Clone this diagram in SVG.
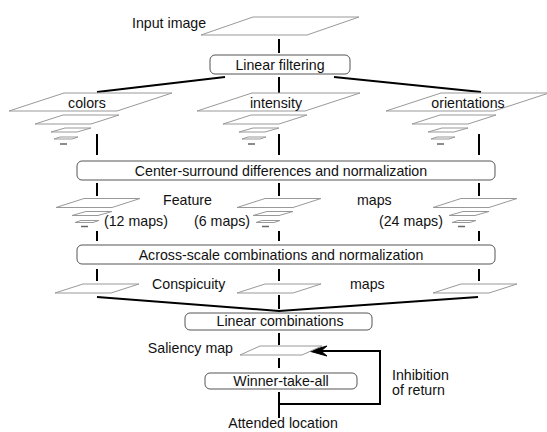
<svg xmlns="http://www.w3.org/2000/svg" xmlns:xlink="http://www.w3.org/1999/xlink" width="547" height="432" viewBox="0 0 547 432">
<style>
text{font-family:"Liberation Sans",Arial,Helvetica,sans-serif;font-size:14.2px;fill:#111}
.c{text-anchor:middle}
.e{text-anchor:end}
.box{fill:#fff;stroke:#555;stroke-width:1}
.map{fill:#fff;stroke:#999;stroke-width:1}
.sm{fill:none;stroke:#999;stroke-width:1}
.dash{stroke:#666;stroke-width:1.5}
.con{fill:none;stroke:#000;stroke-width:2}
</style>
<defs>
<g id="pyramid">
<polygon class="map" points="0,0 108,0 53,18 -55,18"/>
<polygon class="map" points="-1,22 55,22 27,31 -29,31"/>
<polygon class="sm" points="1,35 27,35 13,39 -13,39"/>
<polygon class="sm" points="-4,44 14,44 8,46 -10,46"/>
<line class="dash" x1="-4" y1="51" x2="3" y2="51"/>
</g>
<g id="fstack">
<polygon class="map" points="-1,0 55,0 27,9 -29,9"/>
<polygon class="sm" points="1,13 27,13 13,17 -13,17"/>
<polygon class="sm" points="-4,22 14,22 8,24 -10,24"/>
<line class="dash" x1="-4" y1="28" x2="3" y2="28"/>
</g>
<polygon id="cmap" class="map" points="-1,0 55,0 27,9 -29,9"/>
</defs>

<g id="connectors">
<line class="con" x1="279" y1="39" x2="279" y2="53"/>
<line class="con" x1="225" y1="77" x2="97" y2="92"/>
<line class="con" x1="279" y1="77" x2="279" y2="93"/>
<line class="con" x1="334" y1="77" x2="481" y2="92"/>
<line class="con" x1="97" y1="134" x2="97" y2="155"/>
<line class="con" x1="279" y1="134" x2="279" y2="155"/>
<line class="con" x1="479" y1="134" x2="479" y2="155"/>
<line class="con" x1="97" y1="183" x2="97" y2="196"/>
<line class="con" x1="279" y1="183" x2="279" y2="196"/>
<line class="con" x1="479" y1="183" x2="479" y2="196"/>
<line class="con" x1="97" y1="231" x2="97" y2="241"/>
<line class="con" x1="279" y1="231" x2="279" y2="241"/>
<line class="con" x1="479" y1="231" x2="479" y2="241"/>
<line class="con" x1="97" y1="269" x2="97" y2="281"/>
<line class="con" x1="279" y1="269" x2="279" y2="281"/>
<line class="con" x1="479" y1="269" x2="479" y2="281"/>
<polyline class="con" points="97,297 279,311 478,297"/>
<line class="con" x1="279" y1="295" x2="279" y2="309"/>
<line class="con" x1="279" y1="333" x2="279" y2="345"/>
<line class="con" x1="279" y1="358" x2="279" y2="368"/>
<line class="con" x1="279" y1="392" x2="279" y2="418"/>
<polyline class="con" points="279,404 380,404 380,351 320,351"/>
<path d="M309,351 L327,346 L321,351 L327,356 Z" fill="#000" stroke="#000" stroke-width="1" stroke-linejoin="miter"/>
</g>

<g id="input-image">
<polygon class="map" points="253,17 359,17 307,35 201,35"/>
<text x="132" y="28">Input image</text>
</g>
<g id="linear-filtering">
<rect class="box" x="210" y="55" width="140" height="19" rx="5"/>
<text class="c" x="280" y="70">Linear filtering</text>
</g>

<g id="colors">
<use xlink:href="#pyramid" x="64" y="93"/>
<text class="c" x="87" y="108">colors</text>
</g>
<g id="intensity">
<use xlink:href="#pyramid" x="252" y="93"/>
<text class="c" x="276" y="108">intensity</text>
</g>
<g id="orientations">
<use xlink:href="#pyramid" x="441" y="93"/>
<text class="c" x="468" y="108">orientations</text>
</g>

<g id="center-surround">
<rect class="box" x="77" y="161" width="418" height="19" rx="5"/>
<text class="c" x="281" y="175.5">Center-surround differences and normalization</text>
</g>

<g id="feature-maps">
<use xlink:href="#fstack" x="85" y="198.5"/>
<use xlink:href="#fstack" x="266" y="198.5"/>
<use xlink:href="#fstack" x="462" y="198.5"/>
<text x="163" y="205">Feature</text>
<text x="357" y="205">maps</text>
<text x="104" y="225.5">(12 maps)</text>
<text x="194" y="225.5">(6 maps)</text>
<text x="379" y="225.5">(24 maps)</text>
</g>

<g id="across-scale">
<rect class="box" x="77" y="245" width="418" height="19" rx="5"/>
<text class="c" x="281" y="259.5">Across-scale combinations and normalization</text>
</g>

<g id="conspicuity-maps">
<use xlink:href="#cmap" x="84" y="284"/>
<use xlink:href="#cmap" x="266" y="284"/>
<use xlink:href="#cmap" x="462" y="284"/>
<text x="152" y="289">Conspicuity</text>
<text x="350" y="289">maps</text>
</g>

<g id="linear-combinations">
<rect class="box" x="185" y="313" width="187" height="17" rx="5"/>
<text class="c" x="280" y="326">Linear combinations</text>
</g>

<g id="saliency-map">
<polygon class="map" points="260,346 322,346 302,355 240,355"/>
<text class="e" x="233" y="353">Saliency map</text>
</g>

<g id="winner-take-all">
<rect class="box" x="205" y="373" width="152" height="16" rx="5"/>
<text class="c" x="281" y="386">Winner-take-all</text>
</g>

<g id="inhibition-label">
<text x="392" y="380">Inhibition</text>
<text x="392" y="395">of return</text>
</g>

<g id="attended-location">
<text class="c" x="283" y="428">Attended location</text>
</g>
</svg>
